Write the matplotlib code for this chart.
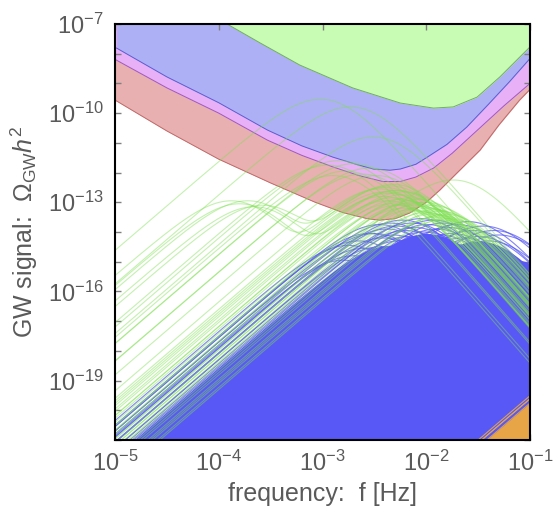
import numpy as np
import matplotlib
matplotlib.use("Agg")
import matplotlib.pyplot as plt
from matplotlib.ticker import FixedLocator, NullLocator, NullFormatter

plt.rcParams['font.family'] = ['Liberation Sans', 'DejaVu Sans']
plt.rcParams['mathtext.fontset'] = 'custom'
plt.rcParams['mathtext.rm'] = 'Liberation Sans'
plt.rcParams['mathtext.it'] = 'Liberation Sans:italic'
plt.rcParams['mathtext.bf'] = 'Liberation Sans:bold'

# ---------------- sensitivity curves (log10 f, log10 Omega h^2) ----------------
green_sens_lf = [-3.92, -3.60, -3.22, -2.71, -2.25, -1.93, -1.74, -1.51, -1.29, -1.00]
green_sens_lo = [-7.00, -7.64, -8.38, -9.15, -9.66, -9.83, -9.79, -9.46, -8.78, -7.77]

blue_sens_lf = [-4.985, -4.50, -4.00, -3.53, -3.20, -2.90, -2.65, -2.51, -2.35, -2.25,
                -2.10, -1.99, -1.80, -1.61, -1.40, -1.20, -1.00]
blue_sens_lo = [-7.81, -8.78, -9.65, -10.57, -11.10, -11.48, -11.75, -11.88, -11.92, -11.88,
                -11.72, -11.48, -11.05, -10.47, -9.70, -8.95, -8.16]

mag_sens_lf = [-5.00, -4.50, -4.00, -3.53, -3.20, -2.90, -2.65, -2.42, -2.25, -2.10,
               -1.93, -1.75, -1.50, -1.25, -1.00]
mag_sens_lo = [-8.19, -9.15, -10.00, -10.91, -11.42, -11.81, -12.10, -12.30, -12.30, -12.15,
               -11.85, -11.35, -10.55, -9.75, -9.00]

red_sens_lf = [-5.00, -4.50, -4.00, -3.50, -3.07, -2.80, -2.57, -2.45, -2.30, -2.16,
               -2.00, -1.87, -1.70, -1.48, -1.30, -1.10, -1.00]
red_sens_lo = [-9.56, -10.60, -11.55, -12.35, -13.00, -13.35, -13.55, -13.60, -13.55, -13.36,
               -13.00, -12.59, -12.00, -11.24, -10.40, -9.56, -9.20]

# ---------------- GW signal peaks (log10 f_peak, log10 Omega_peak) ----------------
# single-peak green spectra: high arcs, mid arcs and the main bundle
green_peak_lf = [-3.02, -2.73, -2.51, -1.74,
                 -2.95, -2.85, -2.78, -2.70, -2.62, -2.55, -2.48, -2.90,
                 -2.45, -2.42, -2.40, -2.38, -2.36, -2.34, -2.32, -2.30, -2.28, -2.26,
                 -2.24, -2.22, -2.20, -2.18, -2.16, -2.14, -2.12, -2.10, -2.08, -2.06,
                 -2.04, -2.02, -2.00, -1.98, -1.96, -1.94, -1.92, -1.90, -1.88, -1.86,
                 -1.84, -1.82, -1.80]
green_peak_lA = [-9.53, -9.79, -10.80, -12.25,
                 -11.75, -11.60, -11.95, -11.70, -12.05, -11.85, -12.10, -12.10,
                 -12.55, -12.80, -12.65, -12.95, -12.70, -13.05, -12.85, -12.60, -13.10, -12.90,
                 -12.75, -13.20, -12.95, -13.05, -12.85, -13.25, -13.00, -13.10, -12.90, -13.30,
                 -13.15, -13.00, -13.35, -13.20, -13.10, -13.40, -13.25, -13.50, -13.30, -13.45,
                 -13.60, -13.40, -13.55]
# two-component (shoulder) green spectra: low component + main component
green_sh_lf1 = [-3.88, -3.80, -3.72, -3.66, -3.58]
green_sh_lA1 = [-12.95, -13.05, -12.95, -13.15, -13.10]
green_sh_lf2 = [-2.35, -2.28, -2.40, -2.22, -2.32]
green_sh_lA2 = [-12.45, -12.60, -12.50, -12.65, -12.40]

blue_peak_lf = [-2.45, -2.55, -2.50, -2.42, -2.38, -2.35, -2.32, -2.29, -2.26, -2.23,
                -2.20, -2.17, -2.14, -2.11, -2.08, -2.05, -2.02, -1.99, -1.96, -1.93,
                -1.90, -1.87, -1.84, -1.81, -1.78, -1.75, -1.70, -1.65, -1.60, -1.55,
                -1.50, -1.45, -1.40, -1.35, -1.30, -2.65, -2.60, -2.70, -2.75, -2.80,
                -2.45, -2.30, -2.15, -2.00, -1.85]
blue_peak_lA = [-13.75, -14.05, -14.05, -14.20, -13.90, -13.70, -14.10, -13.80, -14.30, -13.60,
                -13.95, -14.15, -13.70, -13.85, -14.25, -13.55, -14.00, -13.75, -14.20, -13.60,
                -13.90, -14.10, -13.70, -14.35, -13.85, -14.05, -13.75, -14.20, -13.65, -13.95,
                -14.15, -13.80, -14.30, -13.95, -14.10, -14.30, -14.55, -14.80, -14.45, -14.95,
                -14.50, -14.60, -14.45, -14.55, -14.60]
# dense population below the visible lines (drawn as a filled mass)
blue_core_lf = [-2.35, -2.00, -1.50, -1.20]
blue_core_lA = [-14.45, -14.05, -14.30, -14.90]

orange_peak_lf = [-0.10, -0.05, 0.00, 0.05, 0.10, 0.15, 0.20, 0.25]
orange_peak_lA = [-17.75, -17.60, -17.35, -17.50, -17.30, -17.55, -17.40, -17.65]
orange_core_lf = [0.00]
orange_core_lA = [-17.60]

xticks = [1e-5, 1e-4, 1e-3, 1e-2, 1e-1]
xticklabels = [r'$10^{-5}$', r'$10^{-4}$', r'$10^{-3}$', r'$10^{-2}$', r'$10^{-1}$']
yticks = [1e-19, 1e-16, 1e-13, 1e-10, 1e-7]
yticklabels = [r'$10^{-19}$', r'$10^{-16}$', r'$10^{-13}$', r'$10^{-10}$', r'$10^{-7}$']

YMIN, YMAX = 1e-21, 1e-7
freq = np.logspace(-5, -1, 500)


def sw(f, lfp, lA):
    x = f / 10 ** lfp
    return 10 ** lA * x ** 3 * (7.0 / (4.0 + 3.0 * x ** 2)) ** 3.5


fig = plt.figure(figsize=(5.54, 5.08), dpi=100)
ax = fig.add_axes([115 / 554, 1 - 440 / 508, 415 / 554, 416 / 508])
ax.set_xscale('log')
ax.set_yscale('log')
ax.set_xlim(1e-5, 1e-1)
ax.set_ylim(YMIN, YMAX)

# sensitivity regions (filled to the top)
for lf, lo, fc, ec in [(red_sens_lf, red_sens_lo, '#e8b0b0', '#c06868'),
                       (mag_sens_lf, mag_sens_lo, '#e8b0f6', '#a058c0'),
                       (blue_sens_lf, blue_sens_lo, '#aeb0f6', '#5c5cd0'),
                       (green_sens_lf, green_sens_lo, '#c8fcb4', '#70b058')]:
    fx = 10 ** np.array(lf)
    fy = 10 ** np.array(lo)
    ax.fill_between(fx, fy, YMAX, color=fc, lw=0, zorder=1)
    ax.plot(fx, fy, color=ec, lw=0.7, zorder=1.5)

# blue signals: filled mass + visible lines
core = np.max([sw(freq, a, b) for a, b in zip(blue_core_lf, blue_core_lA)], axis=0)
ax.fill_between(freq, YMIN * 0.1, core, color='#5858f6', lw=0, zorder=2)
for a, b in zip(blue_peak_lf, blue_peak_lA):
    ax.plot(freq, sw(freq, a, b), color='#5858f6', lw=0.8, alpha=0.75, zorder=2.2)

# orange signals
ocore = np.max([sw(freq, a, b) for a, b in zip(orange_core_lf, orange_core_lA)], axis=0)
ax.fill_between(freq, YMIN * 0.1, ocore, color='#e8a548', lw=0, zorder=2.4)
for a, b in zip(orange_peak_lf, orange_peak_lA):
    ax.plot(freq, sw(freq, a, b), color='#e8a548', lw=0.8, alpha=0.9, zorder=2.5)

# green signals
GC = '#7de050'
for a, b in zip(green_peak_lf, green_peak_lA):
    ax.plot(freq, sw(freq, a, b), color=GC, lw=0.8, alpha=0.45, zorder=3)
for a1, b1, a2, b2 in zip(green_sh_lf1, green_sh_lA1, green_sh_lf2, green_sh_lA2):
    ax.plot(freq, sw(freq, a1, b1) + sw(freq, a2, b2), color=GC, lw=0.8, alpha=0.45, zorder=3)

# axes styling
ax.xaxis.set_major_locator(FixedLocator(xticks))
ax.xaxis.set_minor_locator(NullLocator())
ax.set_xticklabels(xticklabels)
ax.yaxis.set_major_locator(FixedLocator(yticks))
ax.set_yticklabels(yticklabels)
ax.yaxis.set_minor_locator(FixedLocator([10.0 ** k for k in range(-21, -6)]))
ax.yaxis.set_minor_formatter(NullFormatter())
ax.tick_params(which='both', direction='in', top=True, right=True, color='#808080',
               width=1.0, labelsize=17, labelcolor='#5a5a5a')
ax.tick_params(which='major', length=4, pad=8)
ax.tick_params(which='minor', length=4)
for s in ax.spines.values():
    s.set_linewidth(1.5)
    s.set_color('black')
    s.set_zorder(5)

ax.set_xlabel('frequency:  f [Hz]', fontsize=18, color='#5a5a5a', labelpad=4)
ax.set_ylabel(r'GW signal:  $\Omega_{\mathrm{GW}}h^2$', fontsize=18, color='#5a5a5a', labelpad=6)

fig.savefig('out.png', dpi=100)
